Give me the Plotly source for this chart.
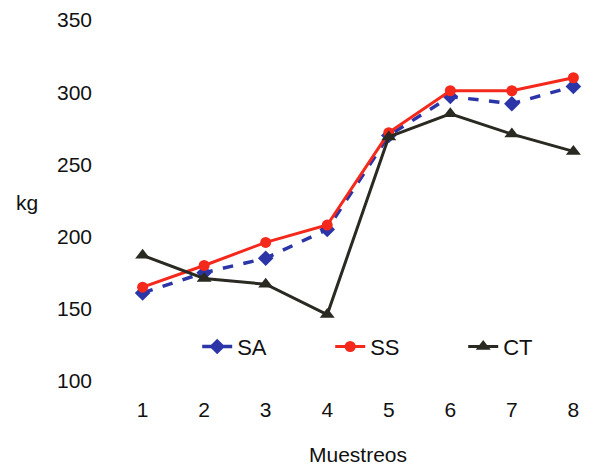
import plotly.graph_objects as go

muestreos = [1, 2, 3, 4, 5, 6, 7, 8]
sa = [161, 175, 185, 205, 270, 297, 292, 304]
ss = [165, 180, 196, 208, 272, 301, 301, 310]
ct = [187, 171, 167, 146, 269, 285, 271, 259]

fig = go.Figure()
fig.add_trace(go.Scatter(x=muestreos, y=sa, name="SA", mode="lines+markers",
                         line=dict(color="#2b35a8", width=3.5, dash="dash"),
                         marker=dict(symbol="diamond", size=12, color="#2b35a8")))
fig.add_trace(go.Scatter(x=muestreos, y=ss, name="SS", mode="lines+markers",
                         line=dict(color="#f5281c", width=3),
                         marker=dict(symbol="circle", size=11, color="#f5281c")))
fig.add_trace(go.Scatter(x=muestreos, y=ct, name="CT", mode="lines+markers",
                         line=dict(color="#2a2a22", width=3),
                         marker=dict(symbol="triangle-up", size=13, color="#2a2a22")))

fig.update_layout(
    width=604, height=470,
    margin=dict(l=110, r=14, t=12, b=97),
    paper_bgcolor="white", plot_bgcolor="white",
    font=dict(family="Liberation Sans, Arial, sans-serif", color="#111111", size=21),
    showlegend=True,
    legend=dict(orientation="h", x=0.165, y=0.095, xanchor="left", yanchor="middle",
                bgcolor="rgba(0,0,0,0)", font=dict(size=22), entrywidth=88),
    xaxis=dict(range=[0.6, 8.4], tickvals=muestreos, showgrid=False, zeroline=False,
               showline=False, ticks="", tickfont=dict(size=21), ticklabelstandoff=14,
               automargin=False,
               title=dict(text="Muestreos", font=dict(size=21), standoff=27)),
    yaxis=dict(range=[100, 350], tickvals=[100, 150, 200, 250, 300, 350], showgrid=False,
               zeroline=False, showline=False, ticks="", tickfont=dict(size=21),
               ticklabelstandoff=25, automargin=False),
    annotations=[dict(text="kg", x=(19 - 110) / 480, y=(373 - 194) / 361,
                      xref="paper", yref="paper", xanchor="center", yanchor="middle",
                      showarrow=False, font=dict(size=21))],
)

fig.write_html("out.html")
